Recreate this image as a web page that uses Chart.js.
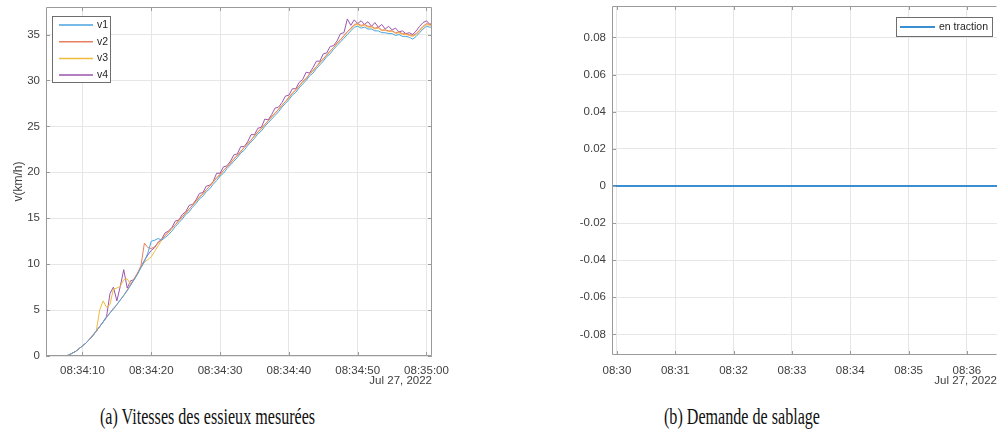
<!DOCTYPE html>
<html>
<head>
<meta charset="utf-8">
<script src="https://cdn.jsdelivr.net/npm/chart.js@4.4.1/dist/chart.umd.min.js"></script>
<style>
    html, body { margin: 0; padding: 0; background: #fff; }
    body { width: 997px; height: 441px; position: relative; overflow: hidden; }
    canvas { position: absolute; top: 0; }
    #speed-chart { left: 0; }
    #sand-chart { left: 540px; }
    .caption {
        position: absolute; top: 405px; line-height: 23px; white-space: nowrap;
        font-family: 'Liberation Serif', 'DejaVu Serif', serif; font-size: 23px; color: #111;
        transform: scaleX(0.70); transform-origin: left top;
    }
</style>
</head>
<body>
<canvas id="speed-chart" width="460" height="400"></canvas>
<canvas id="sand-chart" width="457" height="400"></canvas>
<div class="caption" style="left:100px">(a) Vitesses des essieux mesurées</div>
<div class="caption" style="left:664px">(b) Demande de sablage</div>

<script>
// ---- data: (a) axle speeds, seconds after 08:34:00, km/h ----
const speedTimes = [
    4.5, 5, 5.5, 6, 6.5, 7, 7.5, 8, 8.5, 9,
    9.5, 10, 10.5, 11, 11.5, 12, 12.5, 13, 13.5, 14,
    14.5, 15, 15.5, 16, 16.5, 17, 17.5, 18, 18.5, 19,
    19.5, 20, 20.5, 21, 21.5, 22, 22.5, 23, 23.5, 24,
    24.5, 25, 25.5, 26, 26.5, 27, 27.5, 28, 28.5, 29,
    29.5, 30, 30.5, 31, 31.5, 32, 32.5, 33, 33.5, 34,
    34.5, 35, 35.5, 36, 36.5, 37, 37.5, 38, 38.5, 39,
    39.5, 40, 40.5, 41, 41.5, 42, 42.5, 43, 43.5, 44,
    44.5, 45, 45.5, 46, 46.5, 47, 47.5, 48, 48.5, 49,
    49.5, 50, 50.5, 51, 51.5, 52, 52.5, 53, 53.5, 54,
    54.5, 55, 55.5, 56, 56.5, 57, 57.5, 58, 58.5, 59,
    59.5, 60, 60.5, 61
];

const v1 = [
    0, 0, 0, 0, 0, 0, 0, 0.1, 0.3, 0.5,
    0.8, 1.1, 1.4, 1.8, 2.2, 2.7, 3.2, 3.7, 4.2, 4.7,
    5.1, 5.6, 6.1, 6.6, 7.1, 7.7, 8.3, 8.9, 9.6, 10.3,
    11.2, 12.5, 12.6, 12.8, 12.6, 12.9, 13.2, 13.6, 14.1, 14.5,
    14.9, 15.4, 15.7, 16.2, 16.6, 17.1, 17.4, 17.9, 18.2, 18.7,
    19.1, 19.6, 19.9, 20.4, 20.8, 21.2, 21.6, 22.1, 22.4, 22.9,
    23.3, 23.7, 24.2, 24.5, 25.0, 25.4, 25.8, 26.2, 26.6, 27.1,
    27.5, 27.9, 28.4, 28.7, 29.2, 29.6, 30.0, 30.5, 30.8, 31.3,
    31.7, 32.1, 32.6, 32.9, 33.4, 33.8, 34.2, 34.6, 35.0, 35.4,
    35.8, 35.9, 35.7, 35.8, 35.6, 35.6, 35.4, 35.4, 35.2, 35.2,
    35.1, 35.1, 34.9, 35.0, 34.8, 34.8, 34.7, 34.5, 34.8, 35.2,
    35.6, 35.9, 35.8, 35.9
];

const v2 = [
    0, 0, 0, 0, 0, 0, 0, 0.1, 0.3, 0.5,
    0.8, 1.1, 1.4, 1.8, 2.3, 2.7, 3.2, 3.7, 4.2, 4.7,
    5.2, 5.6, 6.1, 6.6, 7.2, 7.8, 8.4, 9.0, 9.8, 12.3,
    11.8, 11.7, 11.9, 12.3, 12.7, 13.1, 13.5, 13.9, 14.3, 14.8,
    15.1, 15.6, 16.0, 16.4, 16.9, 17.3, 17.7, 18.1, 18.5, 19.0,
    19.4, 19.8, 20.2, 20.6, 21.0, 21.5, 21.8, 22.3, 22.7, 23.1,
    23.5, 24.0, 24.4, 24.8, 25.2, 25.6, 26.1, 26.4, 26.9, 27.3,
    27.7, 28.2, 28.6, 29.0, 29.4, 29.9, 30.2, 30.7, 31.1, 31.5,
    32.0, 32.3, 32.8, 33.2, 33.6, 34.1, 34.4, 34.9, 35.3, 35.7,
    36.1, 36.2, 36.0, 36.1, 35.9, 35.9, 35.7, 35.8, 35.5, 35.5,
    35.4, 35.4, 35.2, 35.3, 35.1, 35.1, 35.0, 34.9, 35.1, 35.5,
    35.9, 36.2, 36.1, 36.2
];

const v3 = [
    0, 0, 0, 0, 0, 0, 0, 0.1, 0.3, 0.5,
    0.8, 1.1, 1.4, 1.8, 2.2, 2.7, 5.0, 6.0, 5.3, 5.6,
    7.3, 7.4, 7.6, 8.3, 8.4, 7.8, 8.4, 9.0, 9.7, 10.2,
    10.5, 10.8, 11.4, 12.0, 12.6, 13.1, 13.4, 13.9, 14.3, 14.7,
    15.2, 15.5, 16.0, 16.4, 16.8, 17.3, 17.6, 18.1, 18.5, 18.9,
    19.4, 19.7, 20.2, 20.6, 21.0, 21.4, 21.9, 22.2, 22.7, 23.1,
    23.5, 23.9, 24.4, 24.7, 25.2, 25.6, 26.0, 26.5, 26.8, 27.3,
    27.7, 28.1, 28.6, 28.9, 29.4, 29.8, 30.2, 30.7, 31.0, 31.5,
    31.9, 32.4, 32.7, 33.2, 33.6, 34.0, 34.5, 34.8, 35.3, 35.6,
    36.0, 36.1, 35.9, 36.0, 35.8, 35.8, 35.6, 35.7, 35.4, 35.5,
    35.3, 35.4, 35.1, 35.2, 35.0, 35.0, 34.9, 34.8, 35.0, 35.4,
    35.8, 36.1, 36.0, 36.1
];

const v4 = [
    0, 0, 0, 0, 0, 0, 0, 0.1, 0.3, 0.5,
    0.8, 1.1, 1.4, 1.8, 2.2, 2.7, 3.2, 3.7, 4.3, 6.8,
    7.5, 6.0, 7.6, 9.4, 7.4, 8.2, 8.3, 9.0, 9.7, 10.4,
    11.0, 11.5, 11.8, 12.4, 12.7, 13.4, 13.6, 14.0, 14.7, 14.8,
    15.4, 15.7, 16.4, 16.5, 17.0, 17.7, 17.8, 18.5, 18.6, 19.0,
    19.9, 19.9, 20.6, 20.7, 21.2, 21.9, 22.0, 22.8, 22.8, 23.3,
    24.1, 24.1, 24.8, 24.9, 25.8, 25.7, 26.3, 27.0, 27.1, 27.6,
    28.3, 28.4, 29.1, 29.1, 29.8, 30.1, 30.9, 30.8, 31.4, 32.1,
    32.1, 32.9, 33.0, 33.7, 33.8, 34.3, 35.1, 35.2, 36.7, 36.0,
    36.6, 36.2, 36.5, 36.1, 36.4, 35.9, 36.3, 35.8, 36.1, 35.6,
    35.9, 35.5, 35.7, 35.3, 35.4, 35.1, 35.2, 35.0, 35.4, 35.9,
    36.3, 36.5, 36.1, 36.4
];

const speedLabels = ['v1', 'v2', 'v3', 'v4'];
const speedColors = ['#4aa3df', '#e8805e', '#f0bb3c', '#9b55ac'];

// ---- data: (b) sanding request, seconds after 08:30:00 ----
const sandTimes = [-10, 0, 60, 120, 180, 240, 300, 360, 400];
const sandValues = [0, 0, 0, 0, 0, 0, 0, 0, 0];
const sandLabel = 'en traction';

// Format seconds as a clock string
function clock(base, s, withSeconds) {
    const t = Math.round(base + s);
    const hh = String(Math.floor(t / 3600)).padStart(2, '0');
    const mm = String(Math.floor(t / 60) % 60).padStart(2, '0');
    const ss = String(t % 60).padStart(2, '0');
    return withSeconds ? `${hh}:${mm}:${ss}` : `${hh}:${mm}`;
}

// Fix a scale's size and drop the label overhang padding
function fixSize(prop, size) {
    return s => {
        s[prop] = size;
        s.paddingTop = 0;
        s.paddingBottom = 0;
        s.paddingLeft = 0;
        s.paddingRight = 0;
    };
}

// MATLAB-like box with inward ticks
const matlabBox = {
    id: 'matlabBox',
    afterDatasetsDraw(chart, args, opts) {
        const {ctx, chartArea: a, scales: {x, y}} = chart;
        const len = opts.tickLen;
        ctx.save();
        ctx.strokeStyle = opts.color;
        ctx.lineWidth = 1;
        ctx.beginPath();
        ctx.moveTo(a.right - 0.5, a.bottom - 0.5);
        ctx.lineTo(a.left + 0.5, a.bottom - 0.5);
        ctx.lineTo(a.left + 0.5, a.top + 0.5);
        ctx.lineTo(a.right - 0.5, a.top + 0.5);
        if (opts.rightEdge) ctx.lineTo(a.right - 0.5, a.bottom - 0.5);
        x.ticks.forEach(t => {
            const px = Math.round(x.getPixelForValue(t.value)) + 0.5;
            ctx.moveTo(px, a.bottom); ctx.lineTo(px, a.bottom - len);
            ctx.moveTo(px, a.top); ctx.lineTo(px, a.top + len);
        });
        y.ticks.forEach(t => {
            const py = Math.round(y.getPixelForValue(t.value)) + 0.5;
            ctx.moveTo(a.left, py); ctx.lineTo(a.left + len, py);
            if (opts.rightEdge) { ctx.moveTo(a.right, py); ctx.lineTo(a.right - len, py); }
        });
        ctx.stroke();
        ctx.restore();
    }
};

// Legend drawn inside the plot, in a framed box
const boxLegend = {
    id: 'boxLegend',
    afterDraw(chart, args, o) {
        const {ctx} = chart;
        ctx.save();
        ctx.fillStyle = '#fff';
        ctx.fillRect(o.x, o.y, o.w, o.h);
        ctx.strokeStyle = '#6e6e6e';
        ctx.lineWidth = 1;
        ctx.strokeRect(o.x + 0.5, o.y + 0.5, o.w - 1, o.h - 1);
        ctx.font = "10.5px 'Liberation Sans'";
        ctx.textBaseline = 'middle';
        chart.data.datasets.forEach((ds, i) => {
            const cy = o.y + o.firstRow + i * o.rowH;
            ctx.strokeStyle = ds.borderColor;
            ctx.lineWidth = o.lineWidth;
            ctx.beginPath();
            ctx.moveTo(o.x + o.lineX0, cy);
            ctx.lineTo(o.x + o.lineX1, cy);
            ctx.stroke();
            ctx.fillStyle = '#262626';
            ctx.fillText(ds.label, o.x + o.textX, cy);
        });
        ctx.restore();
    }
};

Chart.defaults.font.family = "'Liberation Sans', Arial, sans-serif";
Chart.defaults.font.size = 11.5;
Chart.defaults.color = '#404040';

const gridColor = '#e6e6e6';

// Chart (a): axle speeds
new Chart(document.getElementById('speed-chart'), {
    type: 'line',
    data: {
        datasets: speedLabels.map((label, i) => ({
            label: label,
            data: speedTimes.map((t, k) => ({x: t, y: [v1, v2, v3, v4][i][k]})),
            borderColor: speedColors[i],
            borderWidth: 1,
            pointRadius: 0,
            tension: 0
        }))
    },
    options: {
        responsive: false,
        animation: false,
        layout: {padding: {left: 0, top: 7, right: 28, bottom: 0}},
        scales: {
            x: {
                type: 'linear',
                min: 4.7,
                max: 60.8,
                afterFit: fixSize('height', 44),
                grid: {color: gridColor, drawTicks: false},
                border: {display: false},
                ticks: {
                    stepSize: 10,
                    includeBounds: false,
                    maxRotation: 0,
                    padding: 8,
                    callback: v => clock(8 * 3600 + 34 * 60, v, true)
                },
                title: {
                    display: true,
                    text: 'Jul 27, 2022',
                    align: 'end',
                    padding: {top: 0, bottom: 12},
                    font: {size: 11.5}
                }
            },
            y: {
                min: 0,
                max: 38,
                afterFit: fixSize('width', 46),
                grid: {color: gridColor, drawTicks: false},
                border: {display: false},
                ticks: {stepSize: 5, includeBounds: false, padding: 6},
                title: {
                    display: true,
                    text: 'v(km/h)',
                    padding: {top: 11, bottom: 0},
                    font: {size: 12}
                }
            }
        },
        plugins: {
            legend: {display: false},
            tooltip: {enabled: false},
            matlabBox: {color: '#9a9a9a', tickLen: 4, rightEdge: true},
            boxLegend: {
                x: 52, y: 16, w: 59, h: 67,
                firstRow: 9, rowH: 16.7,
                lineX0: 7, lineX1: 41, textX: 45, lineWidth: 1.5
            }
        }
    },
    plugins: [matlabBox, boxLegend]
});

// Chart (b): sanding request
new Chart(document.getElementById('sand-chart'), {
    type: 'line',
    data: {
        datasets: [{
            label: sandLabel,
            data: sandTimes.map((t, k) => ({x: t, y: sandValues[k]})),
            borderColor: '#3a8fd3',
            borderWidth: 2,
            pointRadius: 0
        }]
    },
    options: {
        responsive: false,
        animation: false,
        layout: {padding: {left: 0, top: 6, right: 0, bottom: 0}},
        scales: {
            x: {
                type: 'linear',
                min: -5.1,
                max: 391,
                afterFit: fixSize('height', 45),
                grid: {color: gridColor, drawTicks: false},
                border: {display: false},
                ticks: {
                    stepSize: 60,
                    includeBounds: false,
                    maxRotation: 0,
                    padding: 9,
                    callback: v => clock(8 * 3600 + 30 * 60, v, false)
                },
                title: {
                    display: true,
                    text: 'Jul 27, 2022',
                    align: 'end',
                    padding: {top: 0, bottom: 12},
                    font: {size: 11.5}
                }
            },
            y: {
                min: -0.0911,
                max: 0.0969,
                afterFit: fixSize('width', 72),
                grid: {color: gridColor, drawTicks: false},
                border: {display: false},
                ticks: {
                    stepSize: 0.02,
                    includeBounds: false,
                    padding: 6,
                    callback: v => Math.abs(v) < 1e-9 ? '0' : v.toFixed(2)
                }
            }
        },
        plugins: {
            legend: {display: false},
            tooltip: {enabled: false},
            matlabBox: {color: '#9a9a9a', tickLen: 4, rightEdge: false},
            boxLegend: {
                x: 356, y: 17, w: 97, h: 20,
                firstRow: 10, rowH: 16,
                lineX0: 4, lineX1: 39, textX: 43, lineWidth: 2
            }
        }
    },
    plugins: [matlabBox, boxLegend]
});
</script>
</body>
</html>
